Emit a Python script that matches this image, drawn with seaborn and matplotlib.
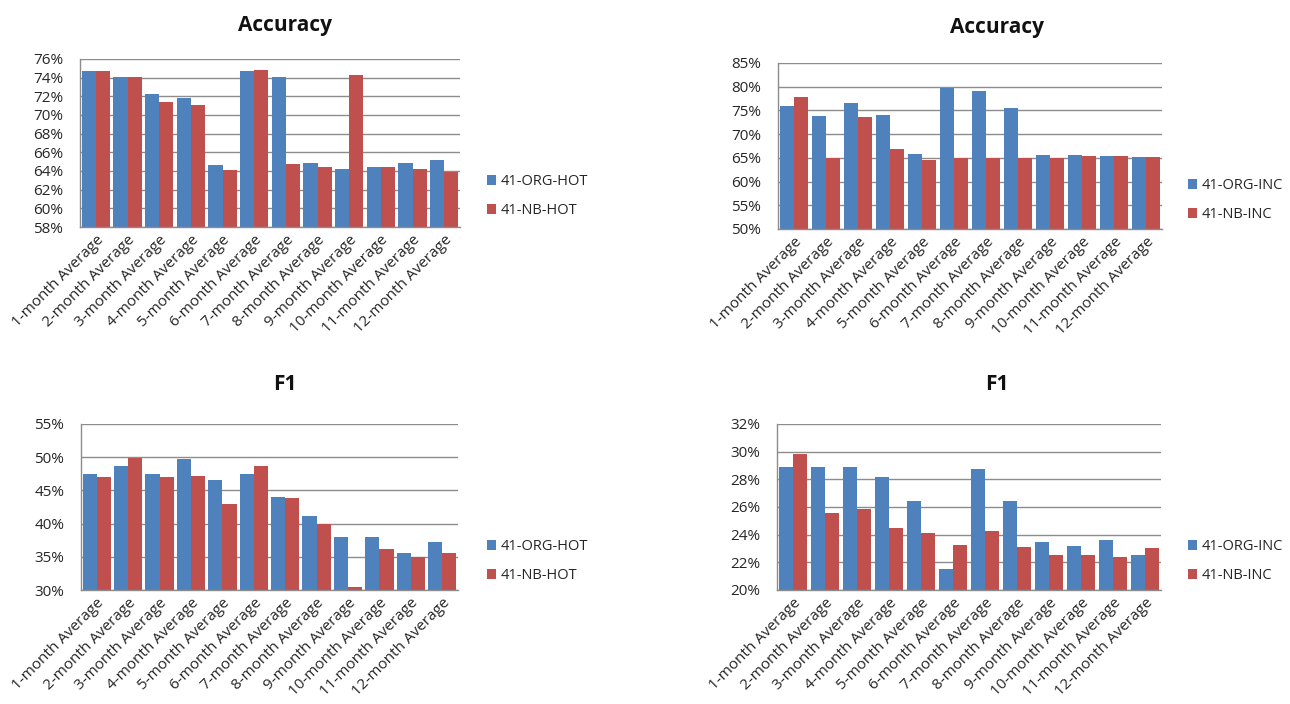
import matplotlib
matplotlib.use("Agg")
import matplotlib.pyplot as plt
import seaborn as sns
import pandas as pd
from matplotlib.patches import Patch
from matplotlib.ticker import FuncFormatter, FixedLocator

sns.set_theme(style="white")
plt.rcParams['font.family'] = ['Open Sans', 'DejaVu Sans']

categories = [f"{i}-month Average" for i in range(1, 13)]

acc_hot_org = [74.7, 74.1, 72.2, 71.8, 64.6, 74.7, 74.1, 64.9, 64.2, 64.4, 64.9, 65.2]
acc_hot_nb = [74.7, 74.1, 71.4, 71.1, 64.1, 74.8, 64.8, 64.4, 74.3, 64.4, 64.2, 63.9]

acc_inc_org = [76.0, 73.9, 76.5, 74.1, 65.9, 79.8, 79.2, 75.5, 65.7, 65.7, 65.4, 65.1]
acc_inc_nb = [77.9, 65.0, 73.6, 66.8, 64.6, 65.0, 65.0, 65.0, 65.0, 65.35, 65.4, 65.1]

f1_hot_org = [47.4, 48.7, 47.4, 49.7, 46.5, 47.4, 44.0, 41.2, 38.0, 38.0, 35.6, 37.3]
f1_hot_nb = [47.0, 49.9, 47.0, 47.2, 42.9, 48.6, 43.8, 40.0, 30.5, 36.2, 35.0, 35.6]

f1_inc_org = [28.9, 28.9, 28.9, 28.2, 26.45, 21.5, 28.75, 26.45, 23.5, 23.2, 23.6, 22.5]
f1_inc_nb = [29.85, 25.55, 25.85, 24.5, 24.15, 23.25, 24.25, 23.1, 22.55, 22.55, 22.35, 23.0]

BLUE = "#4F81BD"
RED = "#C0504D"
GRID = "#8c8c8c"
TXT = "#262626"

fig = plt.figure(figsize=(12.9, 7.04), dpi=100)

panels = [
    # (org, nb, names, ylim, step, rect, title_xy, legend_xy)
    (acc_hot_org, acc_hot_nb, ("41-ORG-HOT", "41-NB-HOT"), (58, 76), 2,
     [80/1290, 1-227/704, 380/1290, 168/704], (285/1290, 1-25/704), (487/1290, 1-196/704)),
    (acc_inc_org, acc_inc_nb, ("41-ORG-INC", "41-NB-INC"), (50, 85), 5,
     [778/1290, 1-229/704, 384/1290, 166/704], (997/1290, 1-27/704), (1188/1290, 1-200/704)),
    (f1_hot_org, f1_hot_nb, ("41-ORG-HOT", "41-NB-HOT"), (30, 55), 5,
     [81/1290, 1-590/704, 377/1290, 166/704], (285/1290, 1-385/704), (487/1290, 1-561/704)),
    (f1_inc_org, f1_inc_nb, ("41-ORG-INC", "41-NB-INC"), (20, 32), 2,
     [777/1290, 1-590/704, 384/1290, 166/704], (997/1290, 1-385/704), (1188/1290, 1-561/704)),
]
titles = ["Accuracy", "Accuracy", "F1", "F1"]

for (org, nb, names, ylim, step, rect, txy, lxy), title in zip(panels, titles):
    ax = fig.add_axes(rect)
    df = pd.DataFrame({
        "cat": categories * 2,
        "val": org + nb,
        "series": [names[0]] * 12 + [names[1]] * 12,
    })
    sns.barplot(data=df, x="cat", y="val", hue="series", order=categories,
                hue_order=list(names), palette=[BLUE, RED], saturation=1,
                width=0.9, linewidth=0, ax=ax, legend=False)
    ax.set_ylim(*ylim)
    ax.set_xlim(-0.5, 11.5)
    ticks = list(range(ylim[0], ylim[1] + 1, step))
    ax.yaxis.set_major_locator(FixedLocator(ticks))
    ax.yaxis.set_major_formatter(FuncFormatter(lambda v, p: f"{v:.0f}%"))
    ax.set_axisbelow(True)
    ax.grid(axis="y", color=GRID, linewidth=1.0)
    ax.grid(axis="x", visible=False)
    for s in ["top", "right"]:
        ax.spines[s].set_visible(False)
    for s in ["left", "bottom"]:
        ax.spines[s].set_color(GRID)
        ax.spines[s].set_linewidth(1.0)
    ax.set_xlabel("")
    ax.set_ylabel("")
    ax.tick_params(axis="y", labelsize=11, labelcolor=TXT, length=0, pad=12)
    ax.tick_params(axis="x", labelsize=11, labelcolor=TXT, length=0, pad=4)
    plt.setp(ax.get_xticklabels(), rotation=45, ha="right", rotation_mode="anchor")
    fig.text(txy[0], txy[1], title, ha="center", va="center", fontsize=15,
             fontweight="bold", color="#111111")
    handles = [Patch(facecolor=BLUE, edgecolor="none"), Patch(facecolor=RED, edgecolor="none")]
    fig.legend(handles, list(names), loc="center left", bbox_to_anchor=lxy,
               bbox_transform=fig.transFigure, frameon=False, fontsize=10.5,
               handlelength=0.65, handleheight=0.65, handletextpad=0.3,
               labelspacing=0.95, borderpad=0, borderaxespad=0, labelcolor=TXT)

fig.savefig("out.png", dpi=100, facecolor="white")
